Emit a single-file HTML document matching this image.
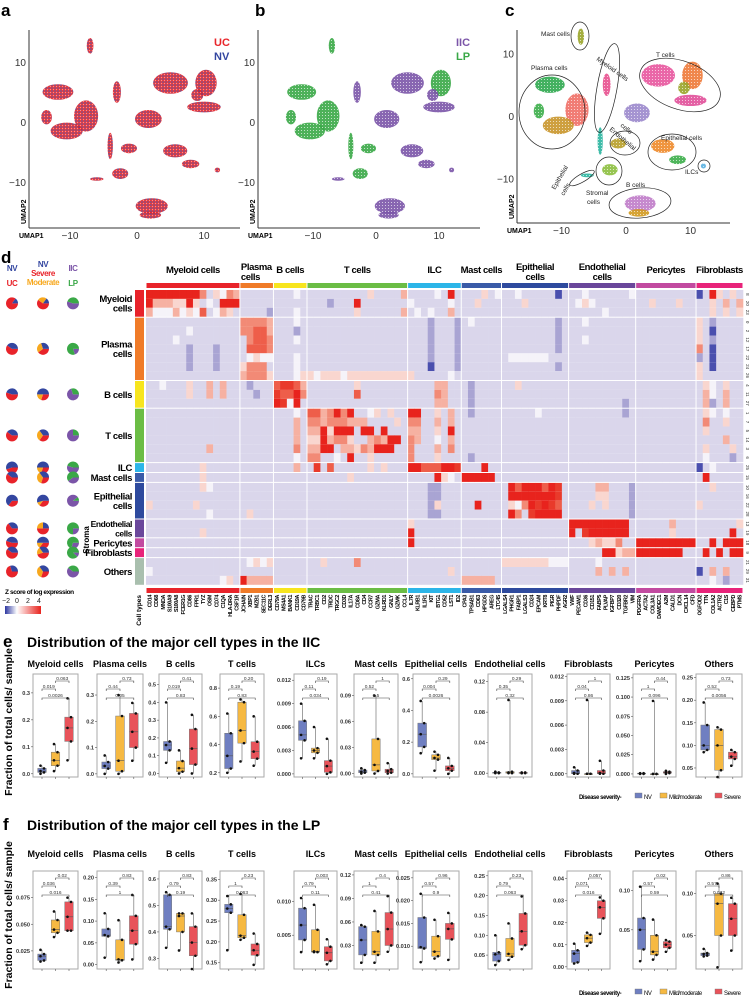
<!DOCTYPE html>
<html><head><meta charset="utf-8">
<style>
html,body{margin:0;padding:0;background:#fff;}
svg{display:block;font-family:"Liberation Sans",sans-serif;}
.nar{font-family:"Liberation Sans Narrow","Liberation Sans",sans-serif;letter-spacing:-0.4px;}
</style></head>
<body>
<svg id="fig" width="750" height="998" viewBox="0 0 750 998" xmlns="http://www.w3.org/2000/svg">
<defs>
<pattern id="pa" width="3" height="3" patternUnits="userSpaceOnUse"><rect width="3" height="3" fill="#e8262b"/><circle cx="1" cy="1" r="0.8" fill="#3346a0"/><circle cx="2.5" cy="2.4" r="0.4" fill="#fff"/></pattern>
<pattern id="pw" width="3" height="3" patternUnits="userSpaceOnUse"><circle cx="1.5" cy="1.5" r="0.55" fill="#fff" opacity="0.8"/></pattern>
<linearGradient id="zg" x1="0" x2="1"><stop offset="0" stop-color="#2d37a0"/><stop offset="0.33" stop-color="#ffffff"/><stop offset="1" stop-color="#e8231d"/></linearGradient>
</defs>
</svg>
<script>
const NS='http://www.w3.org/2000/svg';
const svg=document.getElementById('fig');
function mk(tag,parent,a){const e=document.createElementNS(NS,tag);for(const k in a)e.setAttribute(k,a[k]);(parent||svg).appendChild(e);return e;}
function tx(parent,x,y,s,a){const e=mk('text',parent,Object.assign({x:x,y:y},a||{}));e.textContent=s;return e;}

/* ===== UMAP data ===== */
const umapU=[-7,-11.8,-7.6,-10.5,-13.5,-3,-4,1.7,5,10.3,10,9,-1.2,5.7,8,-2.5,-6,2.2,2,12];
const umapV=[12.7,5,1,-1.5,0.8,5,-4,0.5,6.5,6.5,2.5,4.5,-4.4,-4.8,-7,-8.6,-9.5,-14,-15.5,-8];
const umapRU=[0.5,2.3,1.8,2.4,0.8,0.6,0.4,2,2.6,1.6,2.5,0.9,1.2,1.8,1.3,1.2,1,2.4,1.6,0.4];
const umapRV=[1.3,1.3,2.6,1.4,1.2,1.8,2.2,1.5,1.8,2.2,0.9,1,0.8,1.1,0.7,0.9,0.3,1.3,0.6,0.4];
const clusterColors=['#9aa52a','#2fa84f','#ef6f66','#c9962b','#3cae4a','#e8508f','#2bb5a0','#9b88cc','#e8569e','#ee7a3a','#e1509a','#9aa52a','#b8a02a','#ee8a2a','#3cae4a','#8cbf3f','#2bb5a0','#c07cc9','#d29a1f','#5ab0e0'];
const tissue=['LP','LP','LP','LP','LP','IIC','LP','IIC','IIC','LP','IIC','IIC','LP','IIC','IIC','LP','IIC','IIC','IIC','IIC'];
const umapTicks=[-10,0,10];

function umapPanel(name,letter,lx,ax,ox,oy,sx,sy,xEnd,yAxisBottom,mode){
  const g=mk('g',svg,{});
  
  
  const L=tx(g,lx,16,letter,{'font-size':17,'font-weight':'bold'});
  
  
  const X=u=>ox+u*sx, Y=v=>oy-v*sy;
  for(let i=0;i<umapU.length;i++){
    let fill;
    if(mode==='a')fill='url(#pa)';
    else if(mode==='b')fill=tissue[i]==='LP'?'#3aa847':'#7b55a8';
    else fill=clusterColors[i];
    const e=mk('ellipse',g,{cx:X(umapU[i]),cy:Y(umapV[i]),rx:umapRU[i]*sx,ry:umapRV[i]*sy,fill:fill,opacity:0.9});
    
    
    if(mode!=='a')mk('ellipse',g,{cx:X(umapU[i]),cy:Y(umapV[i]),rx:umapRU[i]*sx,ry:umapRV[i]*sy,fill:'url(#pw)'});
  }
  const ya=mk('line',g,{x1:ax,y1:30,x2:ax,y2:yAxisBottom,stroke:'#333','stroke-width':1});
  
  
  const xa=mk('line',g,{x1:ax,y1:yAxisBottom,x2:xEnd,y2:yAxisBottom,stroke:'#333','stroke-width':1});
  
  
  umapTicks.forEach(t=>{
    const a=tx(g,ax-3,Y(t)+4,String(t).replace('-','\u2212'),{'font-size':10,'text-anchor':'end',fill:'#333'});
    
    
    const b=tx(g,X(t),yAxisBottom+11,String(t).replace('-','\u2212'),{'font-size':10,'text-anchor':'middle',fill:'#333'});
    
    
  });
  const u1=tx(g,ax-10,yAxisBottom+10,'UMAP1',{'font-size':7,'font-weight':'bold'});
  
  
  const u2=tx(g,ax-3,yAxisBottom-4,'UMAP2',{'font-size':7,'font-weight':'bold',transform:`rotate(-90 ${ax-3} ${yAxisBottom-4})`});
  
  
  return g;
}
const ga=umapPanel('umap-disease','a',1,29,137,122,6.7,6,240,228,'a');
const la=tx(ga,214,46,'UC',{'font-size':11,'font-weight':'bold',fill:'#e8262b'});


const lb=tx(ga,214,60,'NV',{'font-size':11,'font-weight':'bold',fill:'#3346a0'});


const gb=umapPanel('umap-tissue','b',255,258,376,122,6.3,6,480,228,'b');
const lc=tx(gb,456,46,'IIC',{'font-size':11,'font-weight':'bold',fill:'#7b55a8'});


const ld=tx(gb,456,60,'LP',{'font-size':11,'font-weight':'bold',fill:'#3aa847'});


const gc=umapPanel('umap-clusters','c',505,517,626,116,6.45,6.25,730,223,'c');
const outlines=[[580,36,9,14,0],[552,112,33,37,0],[607,88,10,45,10],[680,85,42,24,20],[625,143,15,12,0],[672,152,24,18,0],[609,171,13,14,0],[582,178,14,4,-30],[640,203,31,15,-5],[704,166,6,6,0]];
outlines.forEach(o=>{
  const e=mk('ellipse',gc,{cx:o[0],cy:o[1],rx:o[2],ry:o[3],fill:'none',stroke:'#222','stroke-width':0.7,transform:`rotate(${o[4]} ${o[0]} ${o[1]})`});
  
  
});
const clabels=[[541,36,'Mast cells',0],[531,70,'Plasma cells',0],[596,60,'Myeloid cells',35],[656,57,'T cells',0],[609,130,'Endothelial',40],[620,126,'cells',40],[661,140,'Epithelial cells',0],[685,174,'ILCs',0],[555,190,'Epithelial',-60],[564,196,'cells',-60],[586,195,'Stromal',0],[587,204,'cells',0],[626,187,'B cells',0]];
clabels.forEach(c=>{
  const t=tx(gc,c[0],c[1],c[2],{'font-size':6.5,fill:'#222',transform:`rotate(${c[3]} ${c[0]} ${c[1]})`});
  
  
});

/* ===== Heatmap ===== */
const colGroups=['Myeloid cells','Plasma cells','B cells','T cells','ILC','Mast cells','Epithelial cells','Endothelial cells','Pericytes','Fibroblasts'];
const colGroupSizes=[14,5,5,15,8,6,10,10,9,7];
const colGroupColors=['#e8232a','#f07b28','#f7e51e','#6bbd45','#2cb5e8','#3a5ba8','#2e4a9e','#6a479b','#c24aa0','#e8237a'];
const genes=['CD14','CD68','MNDA','S100A9','S100A8','FCER1G','CD86','FPR1','TYZ','OSM','CD74','C1QA','HLA-DRA','CSF1R','JCHAIN','XBP1','MZB1','SEC11C','DERL3','CD79A','MS4A1','BANK1','CD19A','CD79B','TRAC','TRBC1','CD2','TRDC','TRGC2','CD3D','IL17A','CD8A','CD4','CCR7','GZMA','KLRD1','GNLY','GZMK','CCL4','IL7R','KLRB1','IL1R1','KIT','BTG1','CD52','LST1','ID2','CPA3','TPSAB1','CD63','HPGDS','AREG','LTC4S','LGALS4','PHGR1','FABP1','LGALS3','CD24','EPCAM','KRT8','PIGR','PHPDF','AGR2','VWF','PECAM1','CD36','CD151','FABP5','PLVAP','IGFBP7','CD320','TGFBR2','VIM','PDGFRA','ACTA2','COL3A1','DAMDEC1','A2M','CALD1','DCN','CXCL14','CFD','OGFOD2','TTN','COL1A2','ACTR2','C1S','CEBPD','PTMS'];
const rowGroups=['Myeloid cells','Plasma cells','B cells','T cells','ILC','Mast cells','Epithelial cells','Endothelial cells','Pericytes','Fibroblasts','Others'];
const rowGroupSizes=[3,7,3,6,1,1,4,2,1,1,3];
const rowGroupColors=['#e8232a','#f07b28','#f7e51e','#6bbd45','#2cb5e8','#3a5ba8','#2e4a9e','#6a479b','#c24aa0','#e8237a','#a9bfae'];
const clusterIds=['8','20','23','0','2','12','17','22','24','26','4','11','27','1','7','5','14','3','6','25','15','10','16','22','28','13','19','18','9','21','29','31'];
/* expression levels 0..9 (0=-2 blue, 3=0 white, 9=4 red) */
const heatRows=[
"99999999624365 22222 22232 222222222422225 22223292 222423 2232222202 2232222223 222222222 0294242",
"95554494232999 22222 22222 222122292222222 32222232 224222 2224222222 2343222222 224222422 2242525",
"53335343723542 22221 22232 222222242222225 23232252 222222 2222222222 2222232222 222222222 2242424",
"22222222222222 66665 22232 222222222222222 22212221 232222 2222222212 2232222222 222222222 4212222",
"22222232222222 66775 22212 222222222222222 22212221 222222 2222222212 2222222222 222222222 4202222",
"22223222222222 26776 22232 222222222222222 22212221 222222 2222222212 2232222222 222222222 4212222",
"22222212221222 27776 22222 222222222222222 22212221 222222 2222222212 2222222222 222222222 6202222",
"22222212221222 23433 22232 222222222222222 22212221 222222 2333333222 2222222222 222222222 1202222",
"22222212221222 46662 22232 222222222222222 22202221 222222 2222222212 2222222222 222222222 4202222",
"22222222222222 56664 22234 434443444444444 42222232 222222 2222222222 2222222222 222222222 4222222",
"22322242252522 21222 78875 222222242222222 22225522 212222 2242222222 2222222222 222222222 2432422",
"22222242252522 22122 87796 222222272222222 22226522 212222 2222222222 2222222222 222222222 2532522",
"22222222222222 22222 98392 222222222222222 22225522 212222 2222222222 2222222212 222222222 2512522",
"22222222222222 22222 22232 775696922342422 99224252 212222 2222232222 2222222212 222222222 2432322",
"22222222222222 22222 22252 665666555222242 66225252 222222 2222222222 2222222222 222222222 2622422",
"22222222222222 22222 22252 559499929929222 55224292 222222 2222222222 2222222222 222222222 2422222",
"22222222222222 22222 22252 449566422565992 65223252 222222 2222222222 2222222222 222222222 2222522",
"22222222252222 22222 22262 559925546599922 62225262 222222 2222222222 2222222222 222222222 2422242",
"22222222222222 22222 22232 662232922422222 62224222 212222 2222222222 2222222222 222222222 2322212",
"22222222422222 22222 22252 282722222424222 99777998 222922 2222222222 2222222222 222222222 0232222",
"22222222422222 22222 22222 222222422222222 22229432 999992 2222222222 2222222222 222222222 2922222",
"22222222432222 22222 22222 222222222222222 22211222 222222 2979997982 2222552221 222222222 2242222",
"22222222222222 22222 22222 222222222222222 22211222 222222 2999999982 2222442221 222222222 2222222",
"42222224222222 22222 22222 222222222222222 22214222 229222 2436989872 2224242221 222222222 4222222",
"22222222232222 24222 22222 222222222222222 22211222 222222 2962899992 2222222221 222222222 2222222",
"22222222222222 22222 22222 222222222222222 42222222 222222 2222222222 9999999992 222225222 2222224",
"22222222422222 22222 22222 222222222222222 92222222 222222 2222222222 9289999992 222224222 2222292",
"22222222222222 22222 22222 222222222222222 92222222 222222 2222222222 2224544622 999999999 2292999",
"22222222222222 22222 22222 222222222222222 22222222 222222 2222222222 2222299455 999999922 2929299",
"22222222222222 23434 22222 224222262222222 22222222 222222 4444444333 2222322222 222222222 2222222",
"32222222222222 22222 22222 222222222222222 22222242 222222 2222222222 2222525252 222222222 0252522",
"22222222222342 95555 22222 222222222222222 22222222 555552 2222222222 2222222222 222222222 2232122"
];
const levelColors=['#4a4fae','#a9a4d3','#dad6eb','#f5f3f9','#f9d6cf','#f6b1a2','#f28a76','#ee5e4a','#e93a2b','#e8231d'];

const gd=mk('g',svg,{});


const dL=tx(gd,1,263,'d',{'font-size':17,'font-weight':'bold'});


const HX0=146,HX1=743,HY0=290,RH=8.9,GAP=1;
const CW=(HX1-HX0)/genes.length;
const colX=c=>HX0+c*CW;
const rowY=[];let yy=HY0;
rowGroupSizes.forEach((n,gi)=>{for(let k=0;k<n;k++){rowY.push(yy);yy+=RH;}yy+=GAP;});
const HY1=yy-GAP;
heatRows.forEach((s,r)=>{
  const str=s.replace(/ /g,'');
  for(let c=0;c<genes.length;c++){
    const lv=+(str[c]||'2');
    const cell=mk('rect',gd,{x:colX(c),y:rowY[r],width:CW+0.3,height:RH,fill:levelColors[lv]});
    
    
  }
  const cid=tx(gd,746,rowY[r]+RH/2,clusterIds[r],{'font-size':4.5,'text-anchor':'middle',fill:'#333',transform:`rotate(90 746 ${rowY[r]+RH/2})`});
  
  
});
let cc=0;
colGroups.forEach((name,gi)=>{
  const x0=colX(cc),x1=colX(cc+colGroupSizes[gi]);
  const top=mk('rect',gd,{x:x0+0.5,y:283,width:x1-x0-1,height:5,fill:colGroupColors[gi]});
  
  
  const bot=mk('rect',gd,{x:x0+0.5,y:588,width:x1-x0-1,height:5,fill:colGroupColors[gi]});
  
  
  if(gi>0){mk('line',gd,{x1:x0,y1:HY0,x2:x0,y2:HY1,stroke:'#fff','stroke-width':1});}
  const parts=name==='Plasma cells'?['Plasma','cells']:name==='Epithelial cells'?['Epithelial','cells']:name==='Endothelial cells'?['Endothelial','cells']:[name];
  const cx=name==='Plasma cells'?x0+1:(x0+x1)/2;
  const anchor=name==='Plasma cells'?'start':'middle';
  parts.forEach((p,k)=>{
    const t=tx(gd,cx,(parts.length>1?270:273)+k*10,p,{'font-size':9.5,'font-weight':'bold','text-anchor':anchor,class:'nar'});
    
    
  });
  cc+=colGroupSizes[gi];
});
genes.forEach((gname,c)=>{
  const x=colX(c)+CW/2+2;
  const t=tx(gd,x,595,gname,{'font-size':5.4,'font-weight':'bold','text-anchor':'end',class:'nar',transform:`rotate(-90 ${x} 595)`});
  
  
});
const ctl=tx(gd,141,595,'Cell types',{'font-size':6.5,'font-weight':'bold','text-anchor':'end',transform:'rotate(-90 141 595)'});


let rr=0;
const pieY=[];
rowGroups.forEach((name,gi)=>{
  const y0=rowY[rr],y1=rowY[rr+rowGroupSizes[gi]-1]+RH;
  pieY.push((y0+y1)/2);
  const b=mk('rect',gd,{x:135,y:y0,width:9,height:y1-y0,fill:rowGroupColors[gi]});
  
  
  const parts=['Myeloid cells','Plasma cells','Epithelial cells','Endothelial cells'].includes(name)?name.split(' '):[name];
  const yc=(y0+y1)/2;
  const fs=(name==='Endothelial cells')?8.5:9.5;
  parts.forEach((p,k)=>{
    const t=tx(gd,132,yc+3.5+(k-(parts.length-1)/2)*9.5,p,{'font-size':fs,'font-weight':'bold','text-anchor':'end',class:'nar'});
    
    
  });
  rr+=rowGroupSizes[gi];
});
const st=tx(gd,89,540,'Stroma',{'font-size':8,'font-weight':'bold','text-anchor':'middle',transform:'rotate(-90 89 540)'});



const pieUC=[0.85,0.6,0.55,0.6,0.45,0.6,0.35,0.65,0.55,0.6,0.7];
const pieSevere=[0.6,0.4,0.3,0.35,0.3,0.3,0.35,0.5,0.35,0.45,0.3];
const pieModerate=[0.25,0.3,0.2,0.3,0.2,0.35,0.1,0.25,0.15,0.2,0.35];
const pieIIC=[0.55,0.2,0.7,0.75,0.55,0.4,0.9,0.25,0.3,0.12,0.6];
function arc(g,cx,cy,r,a0,a1,col){
  if(a1-a0>=0.9999){return mk('circle',g,{cx:cx,cy:cy,r:r,fill:col});}
  const p=f=>[cx+r*Math.sin(2*Math.PI*f),cy-r*Math.cos(2*Math.PI*f)];
  const s=p(a0),e=p(a1);
  return mk('path',g,{d:`M${cx},${cy}L${s[0]},${s[1]}A${r},${r} 0 ${a1-a0>0.5?1:0} 1 ${e[0]},${e[1]}Z`,fill:col});
}
pieY.forEach((y,i)=>{
  const s1=[[pieUC[i],'#e8232a'],[1-pieUC[i],'#3346a0']];
  const s2=[[pieSevere[i],'#e8232a'],[pieModerate[i],'#f7a81e'],[1-pieSevere[i]-pieModerate[i],'#3346a0']];
  const s3=[[pieIIC[i],'#7b55a8'],[1-pieIIC[i],'#3aa847']];
  [[12,s1],[43,s2],[73,s3]].forEach(([cx,sl])=>{
    let a=0.25;
    sl.forEach(([f,col])=>{
      const w=arc(gd,cx,y,6,a,a+f,col);
      
      
      a+=f;
    });
  });
});
[[12,271,'NV','#3346a0'],[12,286,'UC','#e8232a'],[43,267,'NV','#3346a0'],[43,276,'Severe','#e8232a'],[43,285,'Moderate','#f7a81e'],[73,271,'IIC','#7b55a8'],[73,286,'LP','#3aa847']].forEach(d=>{
  const t=tx(gd,d[0],d[1],d[2],{'font-size':8,'font-weight':'bold','text-anchor':'middle',fill:d[3],class:'nar'});
  
  
});
const zt=tx(gd,5,594,'Z score of log expression',{'font-size':6.5,'font-weight':'bold',class:'nar'});


const zb=mk('rect',gd,{x:5,y:606,width:36,height:8,fill:'url(#zg)'});


const zTicks=['\u22122','0','2','4'];
zTicks.forEach((s,i)=>{
  const t=tx(gd,6+i*11,603,s,{'font-size':7,'text-anchor':'middle',fill:'#222'});
  
  
});

/* ===== Boxplots ===== */
const boxTitles=['Myeloid cells','Plasma cells','B cells','T cells','ILCs','Mast cells','Epithelial cells','Endothelial cells','Fibroblasts','Pericytes','Others'];
const iicStats=[
[[0.0,0.005,0.01,0.02,0.03],[0.01,0.03,0.05,0.08,0.11],[0.05,0.12,0.17,0.21,0.28]],
[[0.0,0.02,0.03,0.045,0.07],[0.0,0.01,0.05,0.22,0.3],[0.05,0.1,0.16,0.23,0.27]],
[[0.06,0.13,0.16,0.18,0.4],[0.0,0.01,0.03,0.07,0.13],[0.0,0.05,0.14,0.25,0.33]],
[[0.2,0.23,0.32,0.48,0.62],[0.28,0.41,0.5,0.7,0.72],[0.25,0.3,0.35,0.42,0.6]],
[[0.002,0.0043,0.005,0.0068,0.009],[0.002,0.0027,0.003,0.0033,0.006],[0.0,0.0002,0.001,0.0017,0.0045]],
[[0.0,0.001,0.002,0.004,0.006],[0.0,0.003,0.01,0.04,0.09],[0.0,0.001,0.003,0.005,0.012]],
[[0.13,0.17,0.25,0.32,0.46],[0.02,0.09,0.1,0.12,0.14],[0.0,0.02,0.035,0.05,0.1]],
[[0.0,0.0,0.001,0.001,0.002],[0.0,0.0,0.001,0.002,0.096],[0.0,0.0,0.0,0.001,0.001]],
[[0.0,0.0,0.0001,0.0004,0.0008],[0.0,0.0,0.0,0.0,0.0091],[0.0,0.0,0.0001,0.0004,0.0016]],
[[0.0,0.0,0.0005,0.001,0.001],[0.0,0.0,0.0,0.0,0.095],[0.0,0.001,0.002,0.003,0.004]],
[[0.085,0.09,0.1,0.145,0.195],[0.03,0.045,0.1,0.135,0.14],[0.055,0.07,0.075,0.085,0.09]]];
const iicLo=[-0.012,-0.012,-0.02,0.17,-0.0004,-0.004,-0.02,-0.005,-0.0004,-0.004,0.03];
const iicHi=[0.37,0.38,0.56,0.9,0.0128,0.115,0.63,0.13,0.0123,0.13,0.258];
const iicTicks=[['0.0','0.1','0.2','0.3'],['0.0','0.1','0.2','0.3'],['0.0','0.1','0.2','0.3','0.4','0.5'],['0.2','0.4','0.6','0.8'],['0.000','0.003','0.006','0.009','0.012'],['0.00','0.03','0.06','0.09'],['0.0','0.2','0.4','0.6'],['0.00','0.04','0.08','0.12'],['0.000','0.003','0.006','0.009','0.012'],['0.000','0.025','0.050','0.075','0.100','0.125'],['0.05','0.10','0.15','0.20','0.25']];
const iicP=[['0.019','0.063','0.0026'],['0.44','0.73','0.05'],['0.019','0.41','0.83'],['0.19','0.20','0.83'],['0.11','0.19','0.034'],['0.52','1','0.5'],['0.004','0.29','0.0026'],['0.35','0.29','0.32'],['0.04','1','0.86'],['1','0.44','0.096'],['0.52','0.73','0.0056']];

const lpStats=[
[[0.015,0.016,0.02,0.022,0.026],[0.038,0.042,0.045,0.054,0.062],[0.044,0.044,0.057,0.071,0.075]],
[[0.016,0.065,0.068,0.082,0.118],[0.005,0.01,0.012,0.057,0.102],[0.012,0.047,0.078,0.112,0.16]],
[[0.34,0.41,0.42,0.54,0.55],[0.33,0.4,0.46,0.47,0.47],[0.26,0.31,0.36,0.42,0.47]],
[[0.18,0.27,0.28,0.29,0.31],[0.205,0.21,0.215,0.265,0.315],[0.145,0.168,0.18,0.195,0.22]],
[[0.0025,0.0043,0.0065,0.009,0.0105],[0.0025,0.0025,0.0026,0.0058,0.0095],[0.0007,0.0012,0.0024,0.0033,0.0044]],
[[0.008,0.018,0.037,0.054,0.056],[0.008,0.018,0.022,0.048,0.074],[0.022,0.03,0.051,0.072,0.093]],
[[0.0065,0.0095,0.0098,0.0163,0.0215],[0.0073,0.0078,0.0088,0.0122,0.0158],[0.007,0.0115,0.0138,0.015,0.0173]],
[[0.025,0.035,0.052,0.057,0.1],[0.038,0.046,0.053,0.092,0.13],[0.065,0.075,0.11,0.155,0.198]],
[[0.0015,0.002,0.006,0.0075,0.0105],[0.0095,0.011,0.013,0.0145,0.0155],[0.015,0.022,0.027,0.03,0.0315]],
[[0.01,0.025,0.05,0.065,0.105],[0.012,0.018,0.022,0.043,0.063],[0.022,0.027,0.031,0.035,0.037]],
[[0.025,0.026,0.028,0.029,0.034],[0.012,0.05,0.088,0.1,0.112],[0.032,0.05,0.07,0.088,0.095]]];
const lpLo=[0.008,-0.01,0.26,0.135,0.0,0.0,0.005,0.015,-0.001,0.0,0.01];
const lpHi=[0.1,0.215,0.63,0.37,0.0145,0.125,0.0265,0.262,0.0435,0.125,0.127];
const lpTicks=[['0.025','0.050','0.075'],['0.00','0.05','0.10','0.15','0.20'],['0.3','0.4','0.5','0.6'],['0.15','0.20','0.25','0.30','0.35'],['0.005','0.010'],['0.03','0.06','0.09','0.12'],['0.010','0.015','0.020','0.025'],['0.05','0.10','0.15','0.20','0.25'],['0.00','0.01','0.02','0.03','0.04'],['0.05','0.10'],['0.05','0.10']];
const lpP=[['0.036','0.02','0.016'],['0.39','0.83','1'],['0.79','0.83','0.19'],['1','0.23','0.063'],['0.79','0.003','0.11'],['1','0.4','0.41'],['0.57','0.96','0.9'],['0.79','0.23','0.063'],['0.071','0.057','0.016'],['0.57','0.02','0.59'],['0.57','0.86','0.032']];

const groupColors=['#6f7fc1','#f6b942','#e8535a'];
const boxX0=[33,97,159,220,294,354,413,488,567,633,696];
const boxX1=[78,143,202,264,337,398,459,532,610,676,742];

function boxPanel(name,letter,title,stats,loArr,hiArr,ticks,pvals,top,bottom,letterY,titleY,legendY,ylabY){
  const g=mk('g',svg,{});
  
  
  const L=tx(g,3,letterY,letter,{'font-size':17,'font-weight':'bold'});
  
  
  const T=tx(g,27,letterY,title,{'font-size':14,'font-weight':'bold'});
  
  
  const YL=tx(g,12,ylabY,'Fraction of total cells/ sample',{'font-size':10.5,'font-weight':'bold','text-anchor':'middle',transform:`rotate(-90 12 ${ylabY})`});
  
  
  for(let p=0;p<stats.length;p++){
    const x0=boxX0[p],x1=boxX1[p],w=x1-x0;
    const lo=loArr[p],hi=hiArr[p];
    const Y=v=>bottom-(v-lo)/(hi-lo)*(bottom-top);
    const st=tx(g,(x0+x1)/2,titleY,boxTitles[p],{'font-size':9,'font-weight':'bold','text-anchor':'middle'});
    
    
    const fr=mk('rect',g,{x:x0,y:top,width:w,height:bottom-top,fill:'none',stroke:'#aaa','stroke-width':1});
    
    
    ticks[p].forEach(s=>{
      const v=parseFloat(s),y=Y(v);
      if(y<top-1||y>bottom+2)return;
      mk('line',g,{x1:x0-2,y1:y,x2:x0,y2:y,stroke:'#555','stroke-width':0.6});
      const t=tx(g,x0-3,y+2,s,{'font-size':5.6,'font-weight':'bold','text-anchor':'end',fill:'#333'});
      
      
    });
    const xs=[0,1,2].map(i=>x0+w*(0.2+0.3*i));
    xs.forEach(x=>mk('line',g,{x1:x,y1:bottom,x2:x,y2:bottom+2,stroke:'#555','stroke-width':0.6}));
    stats[p].forEach((s,i)=>{
      const xc=xs[i],bw=w*0.19;
      const wh=mk('line',g,{x1:xc,y1:Y(s[0]),x2:xc,y2:Y(s[4]),stroke:'#777','stroke-width':0.7});
      
      
      const bx=mk('rect',g,{x:xc-bw/2,y:Y(s[3]),width:bw,height:Math.max(0.8,Y(s[1])-Y(s[3])),fill:groupColors[i],stroke:'#777','stroke-width':0.5});
      
      
      mk('line',g,{x1:xc-bw/2,y1:Y(s[2]),x2:xc+bw/2,y2:Y(s[2]),stroke:'#555','stroke-width':0.6});
      s.forEach((v,k)=>{
        const d=mk('circle',g,{cx:xc+(k%2?2:-1.5),cy:Y(v),r:1.3,fill:'#111'});
        
        
      });
    });
    const br=[[0,1,top+15,pvals[p][0]],[1,2,top+7,pvals[p][1]],[0,2,top+24,pvals[p][2]]];
    br.forEach(b=>{
      const a=xs[b[0]],c=xs[b[1]],y=b[2];
      const pth=mk('path',g,{d:`M${a},${y+2}V${y}H${c}V${y+2}`,fill:'none',stroke:'#444','stroke-width':0.6});
      
      
      const t=tx(g,(a+c)/2,y-1,b[3],{'font-size':4.8,'text-anchor':'middle',fill:'#333'});
      
      
    });
  }
  const lg=mk('g',g,{});
  
  
  tx(lg,579,legendY+2,'Disease severity-',{'font-size':6,'font-weight':'bold',class:'nar'});
  [[635,'NV'],[660,'Mild/moderate'],[715,'Severe']].forEach((e,i)=>{
    const k=mk('rect',lg,{x:e[0],y:legendY-4,width:7,height:5,fill:groupColors[i],stroke:'#777','stroke-width':0.4});
    
    
    tx(lg,e[0]+9,legendY+2,e[1],{'font-size':6,class:'nar'});
  });
}
boxPanel('boxplots-iic','e','Distribution of the major cell types in the IIC',iicStats,iicLo,iicHi,iicTicks,iicP,674,777,647,667,797,722);
boxPanel('boxplots-lp','f','Distribution of the major cell types in the LP',lpStats,lpLo,lpHi,lpTicks,lpP,871,969,830,857,993,915);
</script>
</body></html>
